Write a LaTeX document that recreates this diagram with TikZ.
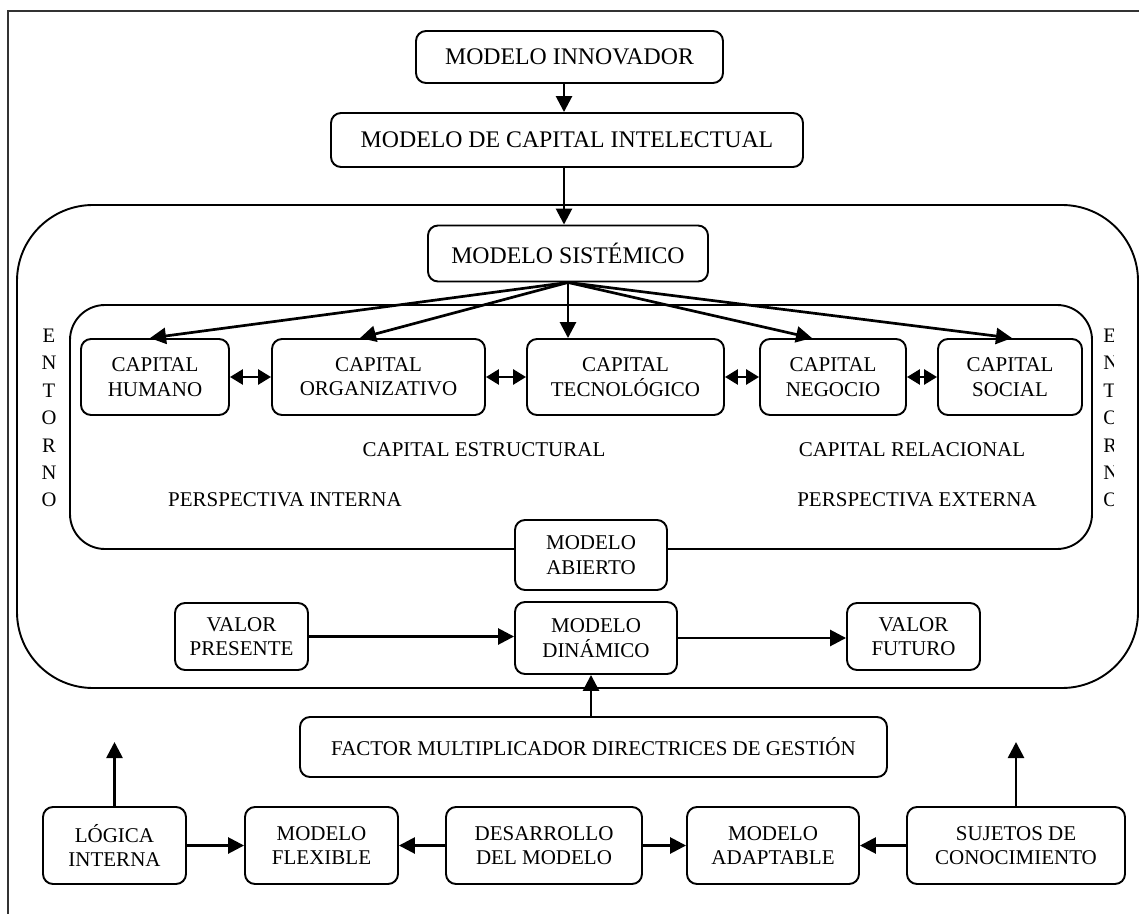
\documentclass[tikz,border=0pt]{standalone}
\usepackage{fontspec}
\setmainfont{Liberation Serif}
\usetikzlibrary{arrows.meta}
\begin{document}
\begin{tikzpicture}[x=0.5pt,y=-0.5pt,
  box/.style={draw, line width=0.95pt, rounded corners=5pt, fill=white, align=center,
    inner sep=0pt, font=\fontsize{10.5}{12.2}\selectfont},
  bigtxt/.style={font=\fontsize{11.9}{14}\selectfont},
  lbl/.style={inner sep=0pt, font=\fontsize{10.5}{12.2}\selectfont},
  vert/.style={inner sep=0pt, font=\fontsize{10.3}{13.7}\selectfont},
  arr/.style={-{Triangle[length=8pt,width=8pt]}, line width=1.35pt},
  dbl/.style={{Triangle[length=6.5pt,width=7.5pt]}-{Triangle[length=6.5pt,width=7.5pt]}, line width=1.35pt},
  frame/.style={line width=0.8pt, black!80},
  region/.style={line width=0.95pt}]
\useasboundingbox (0,0) rectangle (1139,914);
\begin{scope}
  \clip (0,0) rectangle (1139,914);
  % outer frame, running past the page on the right and bottom
  \draw[frame] (8,1000) -- (8,11) -- (1200,11);
\end{scope}

% system region and the intellectual capital region inside it
\draw[region, rounded corners=38pt] (17,205) rectangle (1138,688);
\draw[region, rounded corners=17.5pt] (70,305) rectangle (1092,549);

% top chain
\node[box, bigtxt, minimum width=153.5pt, minimum height=26pt] (innov) at (569.5,57) {MODELO INNOVADOR};
\node[box, bigtxt, minimum width=236pt, minimum height=27pt] (intel) at (567,140) {MODELO DE CAPITAL INTELECTUAL};
\node[box, bigtxt, minimum width=140pt, minimum height=28pt] (sist) at (568,253.5) {MODELO SIST\'EMICO};

% capital components
\node[box, minimum width=74pt, minimum height=38pt] (hum) at (155,377) {CAPITAL\\HUMANO};
\node[box, minimum width=106.5pt, minimum height=38pt] (org) at (378.5,377) {CAPITAL\\ORGANIZATIVO};
\node[box, minimum width=98.5pt, minimum height=38pt] (tec) at (625.5,377) {CAPITAL\\TECNOL\'OGICO};
\node[box, minimum width=73pt, minimum height=38pt] (neg) at (833,377) {CAPITAL\\NEGOCIO};
\node[box, minimum width=72pt, minimum height=38pt] (soc) at (1010,377) {CAPITAL\\SOCIAL};

\node[lbl] (est) at (484,450) {CAPITAL ESTRUCTURAL};
\node[lbl] (rel) at (912,450) {CAPITAL RELACIONAL};
\node[lbl] (pint) at (285,500) {PERSPECTIVA INTERNA};
\node[lbl] (pext) at (917,500) {PERSPECTIVA EXTERNA};

% environment labels; the right one is cut by the page edge of its frame
\node[vert, align=center] (entl) at (49,418) {E\\N\\T\\O\\R\\N\\O};
\begin{scope}
  \clip (1095,300) rectangle (1113,560);
  \node[vert, align=left, anchor=west] (entr) at (1103,418) {E\\N\\T\\O\\R\\N\\O};
\end{scope}

% open / dynamic model
\node[box, minimum width=76pt, minimum height=35pt] (abierto) at (591,555) {MODELO\\ABIERTO};
\node[box, minimum width=66.5pt, minimum height=33.5pt] (presente) at (241.5,636.5) {VALOR\\PRESENTE};
\node[box, minimum width=81pt, minimum height=36pt] (dinamico) at (596,638) {MODELO\\DIN\'AMICO};
\node[box, minimum width=66.5pt, minimum height=33.5pt] (futuro) at (913.5,636.5) {VALOR\\FUTURO};
\node[box, minimum width=293.5pt, minimum height=30pt] (factor) at (593.5,747) {FACTOR MULTIPLICADOR DIRECTRICES DE GESTI\'ON};

% bottom row
\node[box, minimum width=71.5pt, minimum height=38.5pt] (logica) at (114.5,845.5) {L\'OGICA\\INTERNA};
\node[box, minimum width=76.5pt, minimum height=38.5pt] (flex) at (321.5,845.5) {MODELO\\FLEXIBLE};
\node[box, minimum width=98pt, minimum height=38.5pt] (desa) at (544,845.5) {DESARROLLO\\DEL MODELO};
\node[box, minimum width=86pt, minimum height=38.5pt] (adap) at (773,845.5) {MODELO\\ADAPTABLE};
\node[box, minimum width=109pt, minimum height=38.5pt] (suj) at (1016,845.5) {SUJETOS DE\\CONOCIMIENTO};

% connectors
\draw[arr] ([xshift=-2.75pt]innov.south) -- ([xshift=-1.5pt]intel.north);
\draw[arr] ([xshift=-1.5pt]intel.south) -- ([xshift=-2pt]sist.north);

\draw[arr] (sist.south) -- ([xshift=-2.5pt]hum.north);
\draw[arr] (sist.south) -- ([xshift=-9.25pt]org.north);
\draw[arr] (sist.south) -- ([xshift=-28.75pt]tec.north);
\draw[arr] (sist.south) -- ([xshift=-10.5pt]neg.north);
\draw[arr] (sist.south) -- ([xshift=1pt]soc.north);

\draw[dbl] (hum.east) -- (org.west);
\draw[dbl] (org.east) -- (tec.west);
\draw[dbl] (tec.east) -- (neg.west);
\draw[dbl] (neg.east) -- (soc.west);

\draw[arr] (presente.east) -- (presente.east -| dinamico.west);
\draw[arr] (dinamico.east) -- (dinamico.east -| futuro.west);
\coordinate (fup) at ([xshift=-1.25pt]factor.north);
\draw[arr] (fup) -- (fup |- dinamico.south);

\coordinate (lt) at (114.5,742);
\coordinate (st) at (1016,742);
\draw[arr] (logica.north) -- (lt);
\draw[arr] (suj.north) -- (st);
\draw[arr] (logica.east) -- (flex.west);
\draw[arr] (desa.west) -- (flex.east);
\draw[arr] (desa.east) -- (adap.west);
\draw[arr] (suj.west) -- (adap.east);
\end{tikzpicture}
\end{document}
